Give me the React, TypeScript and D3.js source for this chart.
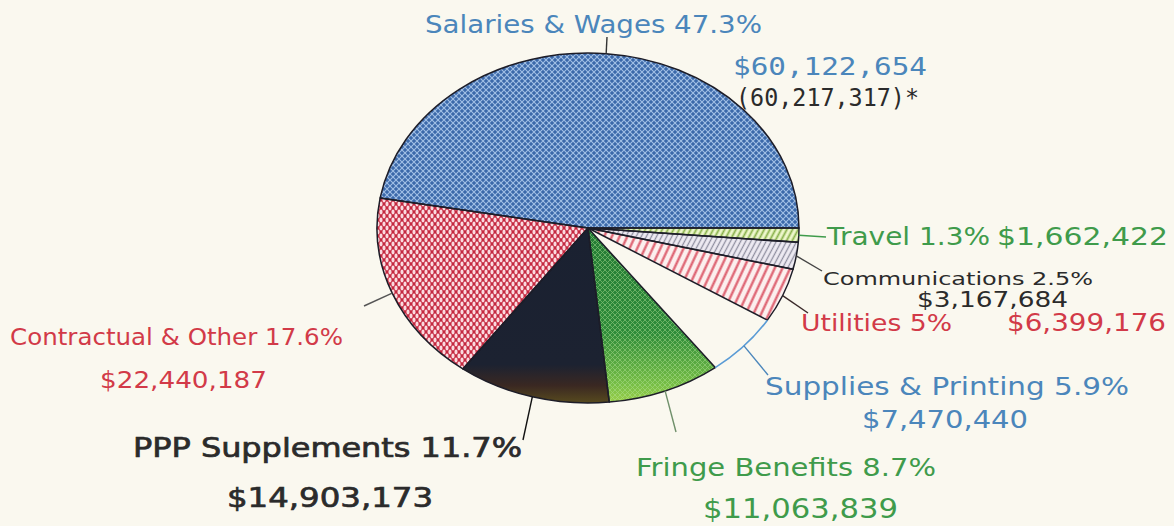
import React from "react";
import * as d3 from "d3";

// ---------- data ----------
const categories = [
  "Salaries & Wages",
  "Travel",
  "Communications",
  "Utilities",
  "Supplies & Printing",
  "Fringe Benefits",
  "PPP Supplements",
  "Contractual & Other",
];
const amounts = [60122654, 1662422, 3167684, 6399176, 7470440, 11063839, 14903173, 22440187];
const percents = ["47.3%", "1.3%", "2.5%", "5%", "5.9%", "8.7%", "11.7%", "17.6%"];
const salariesFootnote = "(60,217,317)*";

// ---------- layout / style ----------
const W = 1174;
const H = 526;
const CX = 588;
const CY = 228;
const RX = 211;
const RY = 175;

const BLUE = "#4b86bb";
const GREEN = "#3f9b4b";
const RED = "#d23a48";
const DARK = "#2b2b2b";
const SANS = "'DejaVu Sans', Verdana, sans-serif";
const MONO = "'DejaVu Sans Mono', monospace";

const sliceFills = [
  "url(#pSal)",
  "url(#pTrv)",
  "url(#pCom)",
  "url(#pUtl)",
  "none",
  "url(#gFr)",
  "url(#gPPP)",
  "url(#pCon)",
];
const sliceOverlays = [null, null, null, null, null, "url(#pFrL)", null, null];

type Line = { kind: "name" | "amt" | "note"; x: number; y: number; size: number; w: number; color: string; font?: string; bold?: boolean };
type Lay = { lines: Line[]; leaderEnd: [number, number]; leaderColor: string };

const labelLayout: Lay[] = [
  {
    lines: [
      { kind: "name", x: 425, y: 33, size: 24, w: 337, color: BLUE },
      { kind: "amt", x: 733, y: 75, size: 25, w: 194, color: BLUE, font: MONO },
      { kind: "note", x: 736, y: 106, size: 25, w: 183, color: DARK, font: MONO },
    ],
    leaderEnd: [607, 37],
    leaderColor: "#333",
  },
  {
    lines: [
      { kind: "name", x: 827, y: 245, size: 24, w: 163, color: GREEN },
      { kind: "amt", x: 997, y: 245, size: 25, w: 171, color: GREEN },
    ],
    leaderEnd: [826, 237],
    leaderColor: GREEN,
  },
  {
    lines: [
      { kind: "name", x: 823, y: 285, size: 18, w: 270, color: DARK },
      { kind: "amt", x: 917, y: 307, size: 22, w: 151, color: DARK },
    ],
    leaderEnd: [822, 271],
    leaderColor: "#444",
  },
  {
    lines: [
      { kind: "name", x: 801, y: 331, size: 23, w: 151, color: RED },
      { kind: "amt", x: 1007, y: 331, size: 25, w: 159, color: RED },
    ],
    leaderEnd: [808, 313],
    leaderColor: "#3a2a2a",
  },
  {
    lines: [
      { kind: "name", x: 765, y: 395, size: 25, w: 364, color: BLUE },
      { kind: "amt", x: 862, y: 428, size: 25, w: 166, color: BLUE },
    ],
    leaderEnd: [768, 375],
    leaderColor: BLUE,
  },
  {
    lines: [
      { kind: "name", x: 636, y: 476, size: 25, w: 300, color: GREEN },
      { kind: "amt", x: 703, y: 518, size: 26, w: 195, color: GREEN },
    ],
    leaderEnd: [676, 432],
    leaderColor: "#6f8f6a",
  },
  {
    lines: [
      { kind: "name", x: 133, y: 457, size: 26, w: 389, color: DARK, bold: true },
      { kind: "amt", x: 227, y: 507, size: 27, w: 206, color: DARK, bold: true },
    ],
    leaderEnd: [523, 440],
    leaderColor: "#111",
  },
  {
    lines: [
      { kind: "name", x: 10, y: 345, size: 23, w: 333, color: RED },
      { kind: "amt", x: 100, y: 388, size: 23, w: 167, color: RED },
    ],
    leaderEnd: [364, 306],
    leaderColor: "#555",
  },
];

// ---------- geometry ----------
const fmt = d3.format("$,");
const total = d3.sum(amounts);
const startAngle = Math.PI / 2 - (2 * Math.PI * amounts[0]) / total;
const pieGen = d3
  .pie<number>()
  .sort(null)
  .value((d) => d)
  .startAngle(startAngle)
  .endAngle(startAngle + 2 * Math.PI);
const arcs = pieGen(amounts);

const px = (a: number) => CX + RX * Math.sin(a);
const py = (a: number) => CY - RY * Math.cos(a);

function sectorPath(a0: number, a1: number) {
  const large = a1 - a0 > Math.PI ? 1 : 0;
  return `M${CX},${CY}L${px(a0)},${py(a0)}A${RX},${RY} 0 ${large} 1 ${px(a1)},${py(a1)}Z`;
}
function arcPath(a0: number, a1: number) {
  const large = a1 - a0 > Math.PI ? 1 : 0;
  return `M${px(a0)},${py(a0)}A${RX},${RY} 0 ${large} 1 ${px(a1)},${py(a1)}`;
}

function lineText(i: number, l: Line) {
  if (l.kind === "name") return `${categories[i]} ${percents[i]}`;
  if (l.kind === "amt") return fmt(amounts[i]);
  return salariesFootnote;
}

export default function App() {
  return (
    <svg
      width={W}
      height={H}
      viewBox={`0 0 ${W} ${H}`}
      style={{ position: "absolute", left: 0, top: 0, display: "block" }}
    >
      <defs>
        <pattern id="pSal" width="6" height="6" patternUnits="userSpaceOnUse">
          <rect width="6" height="6" fill="#3b69aa" />
          <path d="M0,0L6,6M6,0L0,6" stroke="#b3cff0" strokeWidth="1.1" opacity="0.85" />
        </pattern>
        <pattern id="pCon" width="6" height="8" patternUnits="userSpaceOnUse">
          <rect width="6" height="8" fill="#c4283f" />
          <ellipse cx="3" cy="4" rx="1.6" ry="2.4" fill="#fbdadf" />
          <ellipse cx="0" cy="0" rx="1.6" ry="2.4" fill="#fbdadf" />
          <ellipse cx="6" cy="0" rx="1.6" ry="2.4" fill="#fbdadf" />
          <ellipse cx="0" cy="8" rx="1.6" ry="2.4" fill="#fbdadf" />
          <ellipse cx="6" cy="8" rx="1.6" ry="2.4" fill="#fbdadf" />
        </pattern>
        <pattern id="pUtl" width="7" height="7" patternUnits="userSpaceOnUse" patternTransform="rotate(25)">
          <rect width="7" height="7" fill="#fcefee" />
          <line x1="3.5" y1="0" x2="3.5" y2="7" stroke="#dc5c6c" strokeWidth="2.2" />
        </pattern>
        <pattern id="pCom" width="4.5" height="4.5" patternUnits="userSpaceOnUse" patternTransform="rotate(28)">
          <rect width="4.5" height="4.5" fill="#eeebf3" />
          <line x1="2.25" y1="0" x2="2.25" y2="4.5" stroke="#8f8fa0" strokeWidth="1.3" />
        </pattern>
        <pattern id="pTrv" width="5" height="5" patternUnits="userSpaceOnUse" patternTransform="rotate(28)">
          <rect width="5" height="5" fill="#eef7cc" />
          <line x1="2.5" y1="0" x2="2.5" y2="5" stroke="#88b04a" strokeWidth="1.8" />
        </pattern>
        <pattern id="pFrL" width="5" height="5" patternUnits="userSpaceOnUse">
          <path d="M0,0L5,5M5,0L0,5" stroke="#b6e79a" strokeWidth="0.8" opacity="0.55" />
        </pattern>
        <linearGradient id="gFr" gradientUnits="userSpaceOnUse" x1="0" y1={CY} x2="0" y2={CY + RY}>
          <stop offset="0" stopColor="#237a34" />
          <stop offset="0.6" stopColor="#2f8c3a" />
          <stop offset="0.9" stopColor="#79bf46" />
          <stop offset="1" stopColor="#9ccf4a" />
        </linearGradient>
        <linearGradient id="gPPP" gradientUnits="userSpaceOnUse" x1="0" y1={CY} x2="0" y2={CY + RY}>
          <stop offset="0" stopColor="#1a2131" />
          <stop offset="0.78" stopColor="#1c2231" />
          <stop offset="0.9" stopColor="#3a2822" />
          <stop offset="1" stopColor="#574a1e" />
        </linearGradient>
      </defs>

      <rect x="0" y="0" width={W} height={H} fill="#faf8ef" />

      {arcs.map((a, i) => (
        <path key={`f${i}`} d={sectorPath(a.startAngle, a.endAngle)} fill={sliceFills[i]} stroke="none" />
      ))}
      {arcs.map((a, i) =>
        sliceOverlays[i] ? (
          <path key={`o${i}`} d={sectorPath(a.startAngle, a.endAngle)} fill={sliceOverlays[i] as string} />
        ) : null
      )}
      {arcs.map((a, i) =>
        sliceFills[i] !== "none" ? (
          <path
            key={`b${i}`}
            d={sectorPath(a.startAngle, a.endAngle)}
            fill="none"
            stroke="#1d1d28"
            strokeWidth={1.5}
            strokeLinejoin="round"
          />
        ) : null
      )}
      {arcs.map((a, i) =>
        sliceFills[i] === "none" ? (
          <path key={`s${i}`} d={arcPath(a.startAngle, a.endAngle)} fill="none" stroke="#5a9bd5" strokeWidth={1.6} />
        ) : null
      )}

      {arcs.map((a, i) => {
        const mid = (a.startAngle + a.endAngle) / 2;
        const [ex, ey] = labelLayout[i].leaderEnd;
        return (
          <line
            key={`l${i}`}
            x1={px(mid)}
            y1={py(mid)}
            x2={ex}
            y2={ey}
            stroke={labelLayout[i].leaderColor}
            strokeWidth={1.4}
          />
        );
      })}

      {labelLayout.map((lay, i) =>
        lay.lines.map((l, j) => (
          <text
            key={`t${i}-${j}`}
            x={l.x}
            y={l.y}
            fontSize={l.size}
            fill={l.color}
            fontFamily={l.font || SANS}
            textLength={l.w}
            lengthAdjust="spacingAndGlyphs"
            stroke={l.bold ? l.color : "none"}
            strokeWidth={l.bold ? 0.7 : 0}
          >
            {lineText(i, l)}
          </text>
        ))
      )}
    </svg>
  );
}
